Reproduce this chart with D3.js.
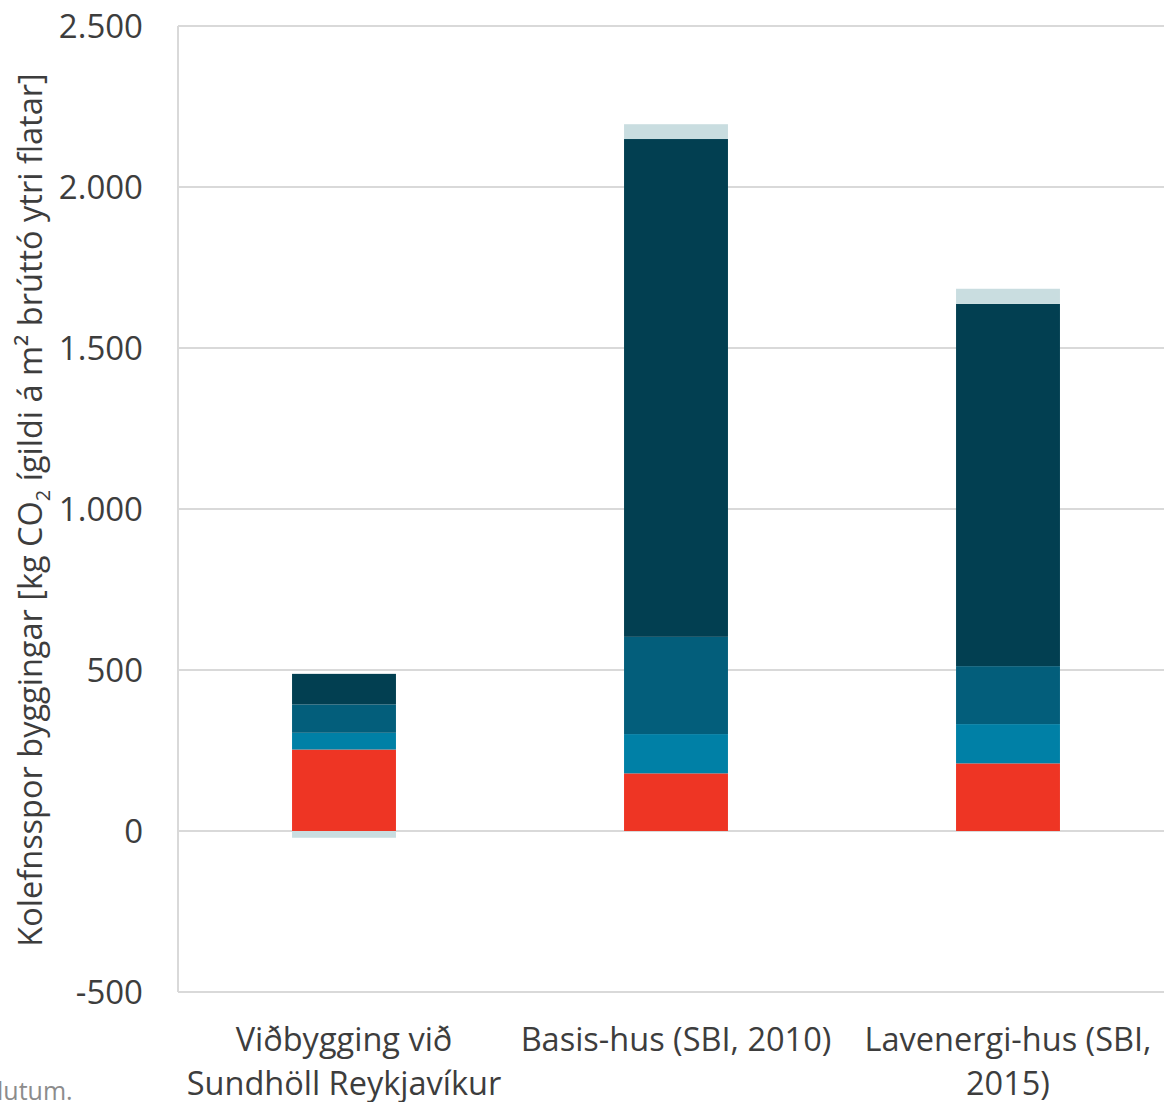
<!DOCTYPE html>
<html>
<head>
<meta charset="utf-8">
<script src="https://cdn.jsdelivr.net/npm/d3@7"></script>
<style>
  body { margin: 0; background: #fff; }
  svg { display: block; font-family: "Open Sans", sans-serif; }
</style>
</head>
<body>
<div id="chart"></div>
<script>
// gögn ----------------------------------------------------------------------------
const categories = ['Viðbygging við|Sundhöll Reykjavíkur', 'Basis-hus (SBI, 2010)', 'Lavenergi-hus (SBI,|2015)'];
const seriesKeys = ['flokkur1', 'flokkur2', 'flokkur3', 'flokkur4', 'flokkur5'];
const flokkur1 = [253, 179, 210];
const flokkur2 = [52, 122, 122];
const flokkur3 = [88, 302, 180];
const flokkur4 = [95, 1546, 1125];
const flokkur5 = [-21, 46, 47];
const yTicks = [-500, 0, 500, 1000, 1500, 2000, 2500];
const colors = ['#ee3524', '#0080a6', '#035e7b', '#023f51', '#c9dde0'];

const rows = categories.map((c, i) => ({
  cat: c,
  flokkur1: flokkur1[i], flokkur2: flokkur2[i], flokkur3: flokkur3[i],
  flokkur4: flokkur4[i], flokkur5: flokkur5[i]
}));

// svæði ---------------------------------------------------------------------------
const width = 1164, height = 1102;
const plot = { left: 178, right: 1174, top: 26, bottom: 992 };
const svg = d3.select('#chart').append('svg')
  .attr('width', width).attr('height', height);

const loc = d3.formatLocale({ decimal: ',', thousands: '.', grouping: [3], currency: ['', ''], minus: '-' });
const fmt = loc.format(',d');

const x = d3.scaleBand().domain(categories)
  .range([plot.left, plot.right])
  .paddingInner(0.687).paddingOuter(0.3435);
const y = d3.scaleLinear().domain([-500, 2500]).range([plot.bottom, plot.top]);

// ramminn og hnitalínur -------------------------------------------------------------
svg.append('g').selectAll('line').data(yTicks).join('line')
  .attr('x1', plot.left).attr('x2', plot.right)
  .attr('y1', d => y(d)).attr('y2', d => y(d))
  .attr('stroke', '#d9d9d9').attr('stroke-width', 2);
svg.append('line')
  .attr('x1', plot.left).attr('x2', plot.left)
  .attr('y1', plot.top).attr('y2', plot.bottom)
  .attr('stroke', '#d9d9d9').attr('stroke-width', 2);

// súlur ---------------------------------------------------------------------------
const stack = d3.stack().keys(seriesKeys).offset(d3.stackOffsetDiverging);
const layers = stack(rows);
svg.append('g').selectAll('g').data(layers).join('g')
  .attr('fill', (d, i) => colors[i])
  .selectAll('rect').data(d => d).join('rect')
  .attr('x', d => x(d.data.cat))
  .attr('width', x.bandwidth())
  .attr('y', d => y(Math.max(d[0], d[1])))
  .attr('height', d => Math.abs(y(d[0]) - y(d[1])));

// y-ás ----------------------------------------------------------------------------
const yAxis = svg.append('g')
  .attr('transform', 'translate(' + 143 + ',0)')
  .call(d3.axisLeft(y).tickValues(yTicks).tickFormat(fmt).tickSize(0).tickPadding(0));
yAxis.select('.domain').remove();
yAxis.selectAll('text')
  .attr('font-size', '33px').attr('fill', '#3d3d3d')
  .attr('font-family', '"Open Sans", sans-serif')
  .attr('dy', '0.35em');

// x-ás merki ----------------------------------------------------------------------
const xl = svg.append('g');
categories.forEach(c => {
  const t = xl.append('text')
    .attr('x', x(c) + x.bandwidth() / 2)
    .attr('y', 1051)
    .attr('text-anchor', 'middle')
    .attr('font-size', '32.5px').attr('fill', '#3d3d3d');
  c.split('|').forEach((line, i) => {
    t.append('tspan')
      .attr('x', x(c) + x.bandwidth() / 2)
      .attr('dy', i === 0 ? 0 : 44)
      .text(line);
  });
});

// ásheiti -------------------------------------------------------------------------
const yt = svg.append('text')
  .attr('transform', 'translate(42,' + 510 + ') rotate(-90)')
  .attr('text-anchor', 'middle')
  .attr('font-size', '32.5px').attr('fill', '#3d3d3d');
yt.append('tspan').text('Kolefnsspor byggingar [kg CO');
yt.append('tspan').attr('font-size', '20px').attr('dy', 8).text('2');
yt.append('tspan').attr('dy', -8).text(' ígildi á m² brúttó ytri flatar]');

// skorið neðanmál -------------------------------------------------------------------
svg.append('text')
  .attr('x', -3).attr('y', 1100)
  .attr('font-size', '25px').attr('fill', '#8c8c8c')
  .text('lutum.');
</script>
</body>
</html>
